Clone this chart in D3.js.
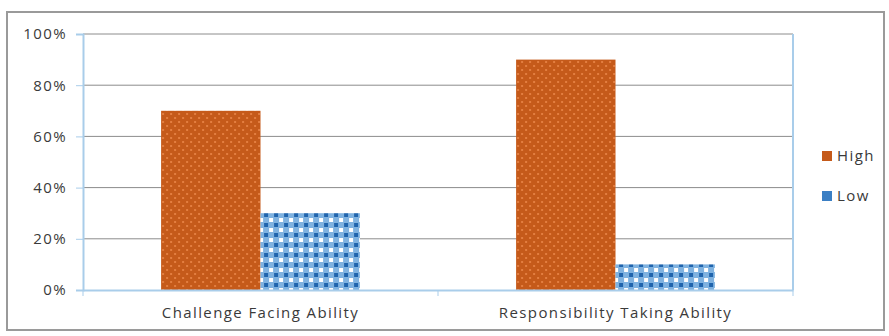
<!DOCTYPE html>
<html>
<head>
<meta charset="utf-8">
<script src="https://cdn.jsdelivr.net/npm/d3@7"></script>
<style>
  body { margin: 0; background: #fff; }
  text { font-family: "Open Sans", "Liberation Sans", sans-serif; fill: #3a3a3a; letter-spacing: 1.4px; }
</style>
</head>
<body>
<div id="chart"></div>
<script>
// data
var categories = ["Challenge Facing Ability", "Responsibility Taking Ability"];
var series = ["High", "Low"];
var highValues = [0.70, 0.90];
var lowValues = [0.30, 0.10];
var yTicks = [0, 0.2, 0.4, 0.6, 0.8, 1.0];

var width = 889, height = 336;
var margin = {left: 83, right: 96, top: 34, bottom: 46};

var svg = d3.select("#chart").append("svg")
  .attr("width", width)
  .attr("height", height);

// fill patterns
var defs = svg.append("defs");
var pHigh = defs.append("pattern")
  .attr("id", "pat-high")
  .attr("patternUnits", "userSpaceOnUse")
  .attr("width", 8).attr("height", 8);
pHigh.append("rect").attr("width", 8).attr("height", 8).attr("fill", "#c55a1a");
pHigh.append("circle").attr("cx", 2).attr("cy", 2).attr("r", 1).attr("fill", "#ee8a4c");
pHigh.append("circle").attr("cx", 6).attr("cy", 6).attr("r", 1).attr("fill", "#ee8a4c");

var pLow = defs.append("pattern")
  .attr("id", "pat-low")
  .attr("patternUnits", "userSpaceOnUse")
  .attr("width", 10).attr("height", 10);
pLow.append("rect").attr("width", 10).attr("height", 10).attr("fill", "#ffffff");
pLow.append("rect").attr("x", 0).attr("y", 2).attr("width", 10).attr("height", 6).attr("fill", "#7fb2e0");
pLow.append("rect").attr("x", 2).attr("y", 0).attr("width", 6).attr("height", 10).attr("fill", "#7fb2e0");
pLow.append("rect").attr("x", 3).attr("y", 3).attr("width", 4).attr("height", 4).attr("fill", "#1f64ad");

// outer frame
svg.append("rect")
  .attr("x", 7).attr("y", 12)
  .attr("width", 877).attr("height", 318)
  .attr("fill", "none")
  .attr("stroke", "#9a9a9a")
  .attr("stroke-width", 2);

var x0 = d3.scaleBand()
  .domain(categories)
  .range([margin.left, width - margin.right])
  .paddingInner(0.44)
  .paddingOuter(0.22);

var x1 = d3.scaleBand()
  .domain(series)
  .range([0, x0.bandwidth()]);

var y = d3.scaleLinear()
  .domain([0, 1])
  .range([height - margin.bottom, margin.top]);

// gridlines
svg.append("g")
  .selectAll("line")
  .data(yTicks.slice(1))
  .enter()
  .append("line")
  .attr("x1", margin.left)
  .attr("x2", width - margin.right)
  .attr("y1", d => y(d))
  .attr("y2", d => y(d))
  .attr("stroke", "#8c8c8c")
  .attr("stroke-width", 1);

// plot border right side
svg.append("line")
  .attr("x1", width - margin.right).attr("x2", width - margin.right)
  .attr("y1", y(1)).attr("y2", y(0))
  .attr("stroke", "#a9cdea").attr("stroke-width", 2);

// bars
var groups = svg.append("g")
  .selectAll("g")
  .data(categories)
  .enter()
  .append("g")
  .attr("transform", d => "translate(" + x0(d) + ",0)");

groups.append("rect")
  .attr("x", x1("High"))
  .attr("width", x1.bandwidth())
  .attr("y", (d, i) => y(highValues[i]))
  .attr("height", (d, i) => y(0) - y(highValues[i]))
  .attr("fill", "url(#pat-high)");

groups.append("rect")
  .attr("x", x1("Low"))
  .attr("width", x1.bandwidth())
  .attr("y", (d, i) => y(lowValues[i]))
  .attr("height", (d, i) => y(0) - y(lowValues[i]))
  .attr("fill", "url(#pat-low)");

// y axis
var yAxis = svg.append("g")
  .attr("transform", "translate(" + margin.left + ",0)")
  .call(d3.axisLeft(y).tickValues(yTicks).tickFormat(d3.format(".0%")).tickSize(7).tickPadding(9));
yAxis.select(".domain").attr("stroke", "#a9cdea").attr("stroke-width", 2);
yAxis.selectAll(".tick line").attr("stroke", "#a9cdea");
yAxis.selectAll("text").style("font-size", "15px").attr("fill", "#3a3a3a");

// x axis
var xAxis = svg.append("g")
  .attr("transform", "translate(0," + y(0) + ")")
  .call(d3.axisBottom(x0).tickSize(0).tickPadding(17));
xAxis.select(".domain").attr("stroke", "#a9cdea").attr("stroke-width", 2);
xAxis.selectAll("text").style("font-size", "15px").attr("fill", "#3a3a3a");

// x tick marks at category boundaries
var bounds = [margin.left, (margin.left + width - margin.right) / 2, width - margin.right];
svg.append("g")
  .selectAll("line")
  .data(bounds)
  .enter()
  .append("line")
  .attr("x1", d => d).attr("x2", d => d)
  .attr("y1", y(0)).attr("y2", y(0) + 6)
  .attr("stroke", "#a9cdea");

// legend
var legend = svg.append("g")
  .selectAll("g")
  .data(series)
  .enter()
  .append("g")
  .attr("transform", (d, i) => "translate(822," + (156 + i * 40) + ")");

legend.append("rect")
  .attr("x", 0).attr("y", -5)
  .attr("width", 10).attr("height", 10)
  .attr("fill", d => d == "High" ? "#c55a1a" : "#3b7fc4");

legend.append("text")
  .attr("x", 15).attr("y", 0)
  .attr("dy", "0.35em")
  .style("font-size", "15px")
  .text(d => d);
</script>
</body>
</html>
